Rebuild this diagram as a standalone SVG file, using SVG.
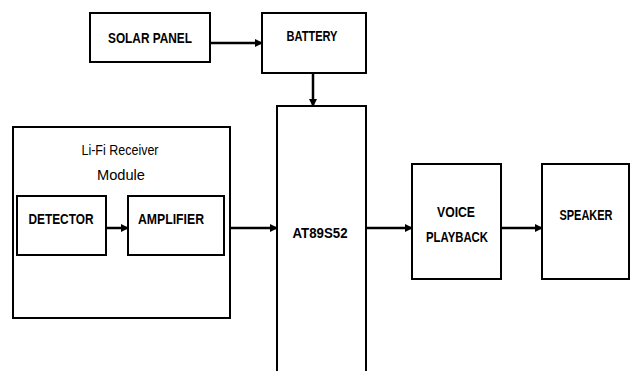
<svg xmlns="http://www.w3.org/2000/svg" width="631" height="371" viewBox="0 0 631 371">
<style>
.box{fill:#fff;stroke:#000;stroke-width:2}
.t{font-family:"Liberation Sans",Arial,sans-serif;font-size:14px;font-weight:bold;fill:#000;text-anchor:middle}
.n{font-weight:normal}
.c{stroke:#000;stroke-width:2.5;fill:none;marker-end:url(#ah)}
</style>
<defs>
<marker id="ah" markerWidth="8" markerHeight="8" refX="7" refY="4" orient="auto" markerUnits="userSpaceOnUse">
<path d="M0,0 L8,4 L0,8 Z" fill="#000"/>
</marker>
</defs>
<rect width="631" height="371" fill="#fff"/>
<g id="solar"><rect class="box" x="90" y="13" width="120" height="49"/><text class="t" x="150" y="43" textLength="84" lengthAdjust="spacingAndGlyphs">SOLAR PANEL</text></g>
<g id="battery"><rect class="box" x="262" y="13" width="104" height="60"/><text class="t" x="312" y="41" textLength="51" lengthAdjust="spacingAndGlyphs">BATTERY</text></g>
<g id="module"><rect class="box" x="13" y="127" width="217" height="191"/><text class="t n" x="120" y="155" textLength="77" lengthAdjust="spacingAndGlyphs">Li-Fi Receiver</text><text class="t n" x="121" y="180" textLength="48" lengthAdjust="spacingAndGlyphs">Module</text></g>
<g id="detector"><rect class="box" x="17" y="196" width="89" height="59"/><text class="t" x="61" y="224" textLength="65" lengthAdjust="spacingAndGlyphs">DETECTOR</text></g>
<g id="amplifier"><rect class="box" x="128" y="196" width="96" height="59"/><text class="t" x="171" y="224" textLength="66" lengthAdjust="spacingAndGlyphs">AMPLIFIER</text></g>
<g id="mcu"><rect class="box" x="277" y="106" width="89" height="270"/><text class="t" x="320" y="238" textLength="55" lengthAdjust="spacingAndGlyphs">AT89S52</text></g>
<g id="voice"><rect class="box" x="412" y="164" width="89" height="115"/><text class="t" x="456" y="217" textLength="38" lengthAdjust="spacingAndGlyphs">VOICE</text><text class="t" x="457" y="242" textLength="62" lengthAdjust="spacingAndGlyphs">PLAYBACK</text></g>
<g id="speaker"><rect class="box" x="542" y="164" width="87" height="115"/><text class="t" x="586" y="220" textLength="53" lengthAdjust="spacingAndGlyphs">SPEAKER</text></g>
<g id="connectors">
<line class="c" x1="210" y1="43" x2="262" y2="43"/>
<line class="c" x1="313" y1="73" x2="313" y2="106"/>
<line class="c" x1="106" y1="228" x2="128" y2="228"/>
<line class="c" x1="230" y1="228" x2="277" y2="228"/>
<line class="c" x1="366" y1="228" x2="412" y2="228"/>
<line class="c" x1="501" y1="228" x2="542" y2="228"/>
</g>
</svg>
